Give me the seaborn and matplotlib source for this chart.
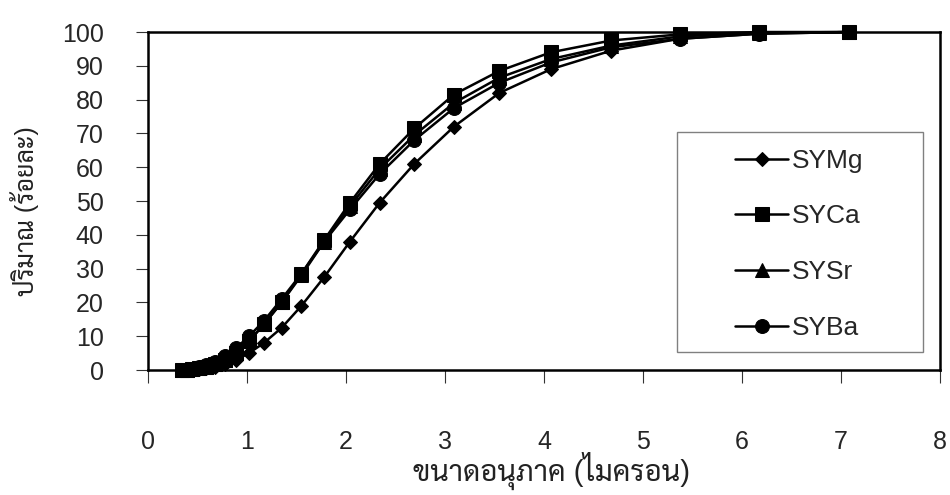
import matplotlib
matplotlib.use("Agg")
import matplotlib.pyplot as plt
import matplotlib.patches as mpatches
import seaborn as sns
import pandas as pd

# particle size (micron) and cumulative amount (%)
size_um = [0.339, 0.389, 0.447, 0.513, 0.589, 0.676, 0.776, 0.891, 1.02, 1.17,
           1.35, 1.55, 1.78, 2.04, 2.34, 2.69, 3.09, 3.55, 4.07, 4.68,
           5.37, 6.17, 7.08]

sy_mg = [0.0, 0.0, 0.1, 0.3, 0.5, 1.0, 1.8, 3.0, 5.0, 8.0,
         12.5, 19.0, 27.5, 38.0, 49.5, 61.0, 72.0, 82.0, 89.0, 94.5,
         98.0, 99.5, 100.0]
sy_ca = [0.0, 0.1, 0.2, 0.5, 1.0, 1.8, 3.0, 5.0, 8.5, 13.5,
         20.0, 28.5, 38.5, 49.5, 61.0, 71.5, 81.5, 88.5, 94.0, 97.5,
         99.3, 100.0, 100.0]
sy_sr = [0.0, 0.1, 0.2, 0.5, 1.0, 1.8, 3.0, 5.0, 8.5, 13.5,
         20.0, 28.0, 38.0, 48.5, 59.5, 69.5, 79.0, 86.5, 92.0, 96.0,
         98.7, 99.8, 100.0]
sy_ba = [0.0, 0.1, 0.4, 0.8, 1.5, 2.5, 4.0, 6.5, 10.0, 14.5,
         21.0, 28.5, 38.0, 47.5, 58.0, 68.0, 77.5, 85.0, 91.0, 95.5,
         98.0, 99.5, 100.0]

series_names = ["SYMg", "SYCa", "SYSr", "SYBa"]
series_values = [sy_mg, sy_ca, sy_sr, sy_ba]
series_markers = ["D", "s", "^", "o"]
series_msize = [7, 10, 10, 10]

x_ticks = [0, 1, 2, 3, 4, 5, 6, 7, 8]
y_ticks = [0, 10, 20, 30, 40, 50, 60, 70, 80, 90, 100]

sns.set_style("white")
plt.rcParams["font.family"] = ["Liberation Sans", "Sarabun", "DejaVu Sans"]

fig = plt.figure(figsize=(9.5, 4.95), dpi=100)
ax = fig.add_axes([0.1558, 0.2525, 0.8337, 0.6828])

for name, vals, mk, ms in zip(series_names, series_values, series_markers, series_msize):
    df = pd.DataFrame({"size": size_um, "amount": vals})
    sns.lineplot(data=df, x="size", y="amount", ax=ax, color="black",
                 marker=mk, markersize=ms, markeredgecolor="black",
                 linewidth=1.8, estimator=None, label=name, clip_on=False)

ax.set_xlim(0, 8)
ax.set_ylim(0, 100)
ax.set_xticks(x_ticks)
ax.set_yticks(y_ticks)
ax.tick_params(axis="x", direction="out", length=9, width=0.8, color="#333333",
               pad=34, labelsize=18, bottom=True)
ax.tick_params(axis="y", direction="out", length=9, width=0.8, color="#333333",
               pad=23, labelsize=18, left=True)

for sp in ax.spines.values():
    sp.set_color("black")
    sp.set_linewidth(1.8)

ax.set_xlabel("ขนาดอนุภาค (ไมครอน)", fontsize=21, color="#222222")
ax.set_ylabel("ปริมาณ (ร้อยละ)", fontsize=18, color="#222222")
ax.xaxis.set_label_coords(0.51, -0.30)
ax.xaxis.label.set_va("center")
ax.yaxis.set_label_coords(-0.156, 0.47)
ax.yaxis.label.set_va("center")

handles, labels = ax.get_legend_handles_labels()
ax.legend(handles, labels, loc="upper left", frameon=False, fontsize=19,
          bbox_to_anchor=(722 / 950, 0.726), bbox_transform=fig.transFigure,
          borderpad=0, handlelength=2.0, handletextpad=0.15, labelspacing=1.2)
fig.patches.append(mpatches.Rectangle((677 / 950, 0.2889), 246 / 950, 0.4444,
                                      transform=fig.transFigure, fill=False,
                                      edgecolor="#808080", linewidth=1.0))

fig.savefig("out.png", dpi=100)
